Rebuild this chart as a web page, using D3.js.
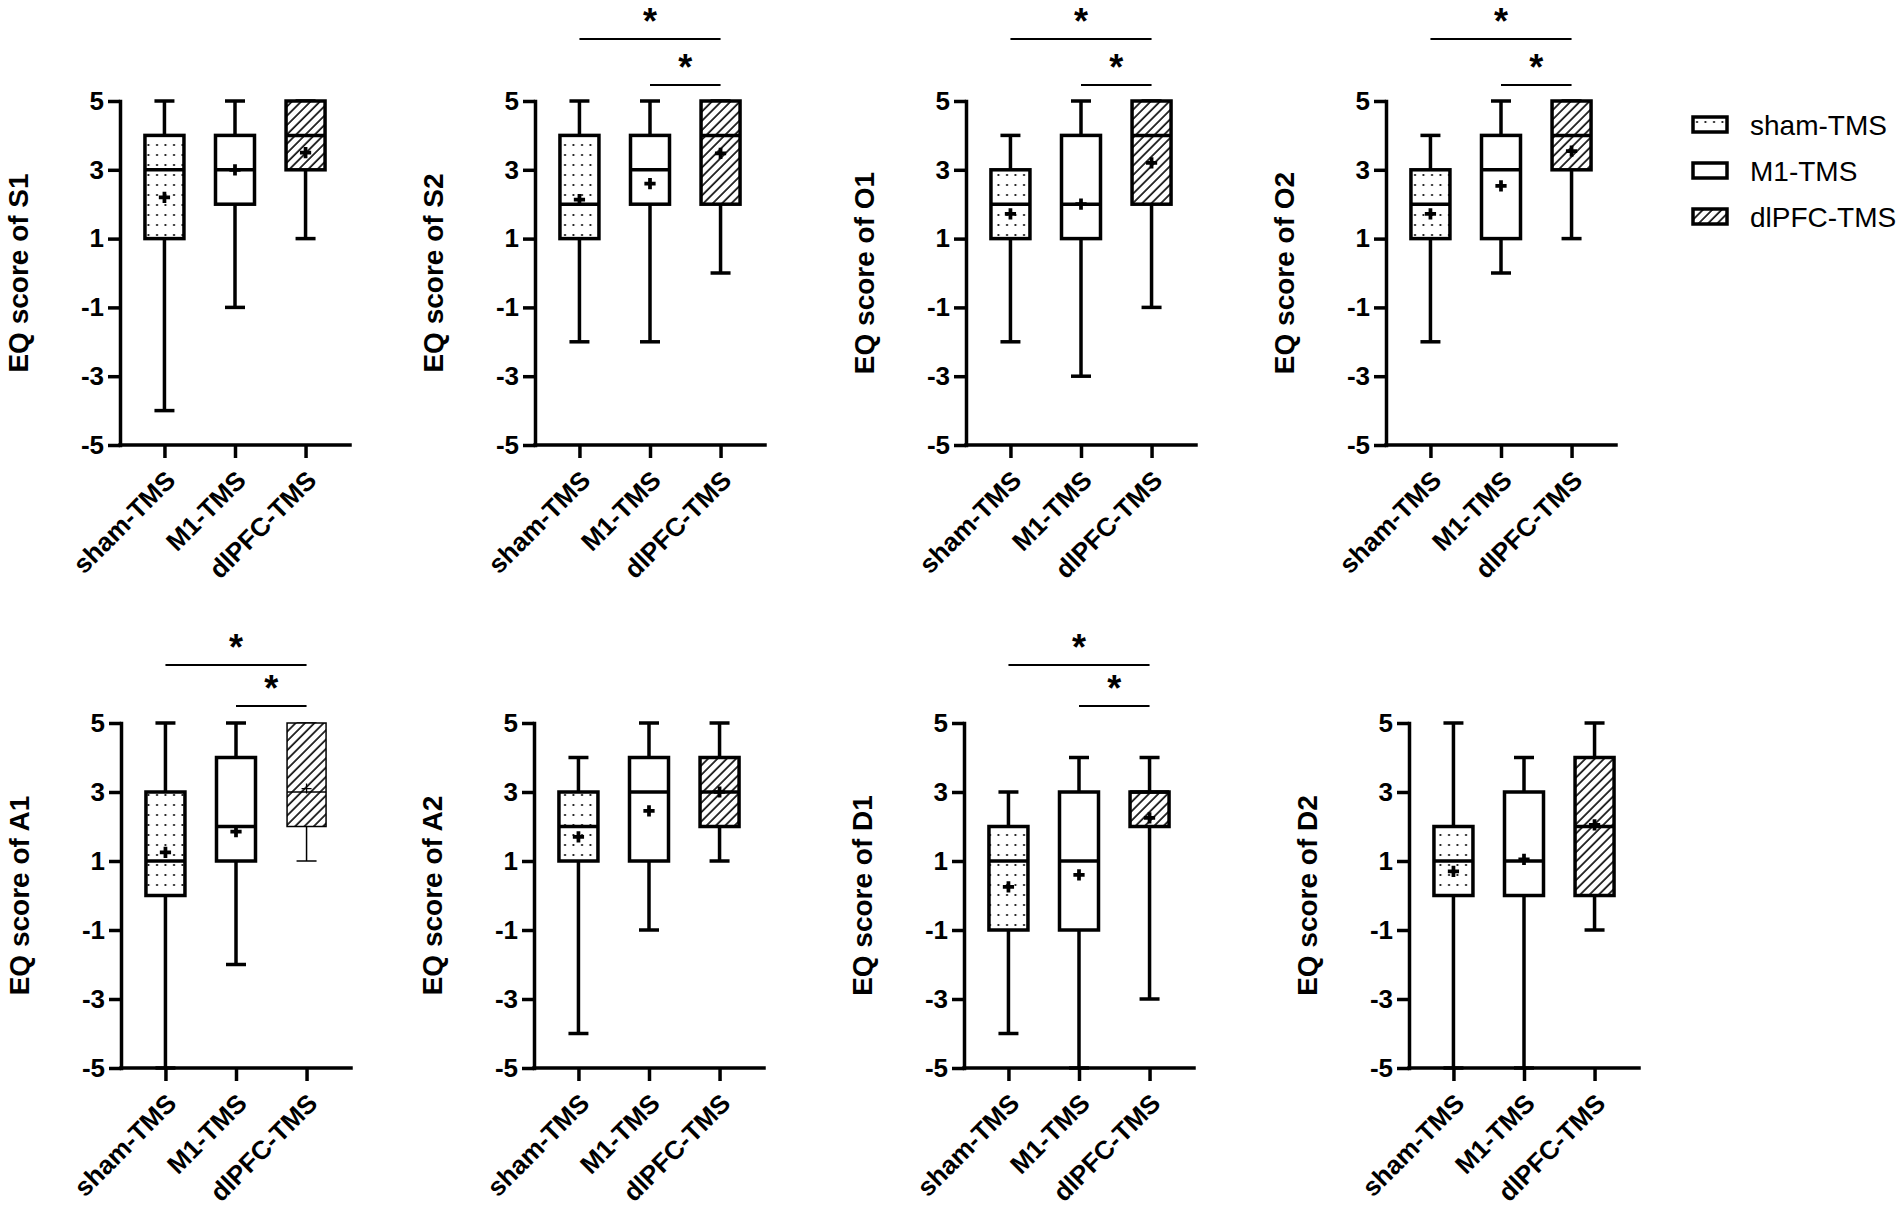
<!DOCTYPE html>
<html>
<head>
<meta charset="utf-8">
<script src="https://cdn.jsdelivr.net/npm/d3@7"></script>
<style>
  body { margin: 0; background: #fff; }
  text { font-family: "Liberation Sans", Arial, sans-serif; fill: #000; }
</style>
</head>
<body>
<div id="chart"></div>
<script>
// groups and panels
var groups = ["sham-TMS", "M1-TMS", "dlPFC-TMS"];
var panels = ["S1", "S2", "O1", "O2", "A1", "A2", "D1", "D2"];
var yTicks = [-5, -3, -1, 1, 3, 5];

// box statistics per panel, one value per group (sham, M1, dlPFC)
var whiskerLow = [[-4, -1, 1], [-2, -2, 0], [-2, -3, -1], [-2, 0, 1], [-5, -2, 1], [-4, -1, 1], [-4, -5, -3], [-5, -5, -1]];
var q1 =         [[1, 2, 3],   [1, 2, 2],   [1, 1, 2],    [1, 1, 3],  [0, 1, 2],   [1, 1, 2],   [-1, -1, 2],  [0, 0, 0]];
var medians =    [[3, 3, 4],   [2, 3, 4],   [2, 2, 4],    [2, 3, 4],  [1, 2, 3],   [2, 3, 3],   [1, 1, 3],    [1, 1, 2]];
var q3 =         [[4, 4, 5],   [4, 4, 5],   [3, 4, 5],    [3, 4, 5],  [3, 4, 5],   [3, 4, 4],   [2, 3, 3],    [2, 3, 4]];
var whiskerHigh =[[5, 5, 5],   [5, 5, 5],   [4, 5, 5],    [4, 5, 5],  [5, 5, 5],   [4, 5, 5],   [3, 4, 4],    [5, 4, 5]];
var means =      [[2.2, 3.0, 3.5], [2.13, 2.6, 3.48], [1.72, 2.0, 3.2], [1.72, 2.53, 3.54],
                  [1.25, 1.85, 3.1], [1.7, 2.45, 3.0], [0.25, 0.6, 2.25], [0.7, 1.05, 2.05]];

// significance brackets: [from group, to group]
var sigPanels = ["S2", "O1", "O2", "A1", "D1"];
var sigPairs = [[0, 2], [1, 2]];

//layout
var width = 1902, height = 1207;
var axisX = [120, 535, 966, 1386, 121, 534, 964, 1409];   // left edge of each plot
var rowTop = [101, 723], rowBottom = [445, 1068];
var barOffset = [[62, 16], [58, 17]];   // bracket heights above the top of the axis, per row
var plotW = 230, boxW = 39, capW = 20, lw = 3.5;
var thinBox = { panel: "A1", group: 2 };   // this one is drawn with hairlines in the original

var svg = d3.select("#chart").append("svg")
    .attr("width", width)
    .attr("height", height);

var defs = svg.append("defs");

// dotted fill
var dots = defs.append("pattern")
    .attr("id", "dots")
    .attr("patternUnits", "userSpaceOnUse")
    .attr("width", 8.5).attr("height", 10);
dots.append("rect").attr("width", 8.5).attr("height", 10).attr("fill", "#fff");
dots.append("circle").attr("cx", 4).attr("cy", 5).attr("r", 1.1).attr("fill", "#000");

// hatched fill
var hatch = defs.append("pattern")
    .attr("id", "hatch")
    .attr("patternUnits", "userSpaceOnUse")
    .attr("width", 6.6).attr("height", 10)
    .attr("patternTransform", "rotate(45)");
hatch.append("rect").attr("width", 6.6).attr("height", 10).attr("fill", "#fff");
hatch.append("line").attr("x1", 1).attr("x2", 1).attr("y1", 0).attr("y2", 10)
    .attr("stroke", "#000").attr("stroke-width", 1.6);

var fills = ["url(#dots)", "#fff", "url(#hatch)"];

panels.forEach(function (name, p) {

    var row = p < 4 ? 0 : 1;
    var ax = axisX[p];

    var y = d3.scaleLinear().domain([-5, 5]).range([rowBottom[row], rowTop[row]]);
    var x = d3.scalePoint().domain(groups).range([ax, ax + plotW]).padding(0.63);

    var g = svg.append("g").attr("class", "panel");

    // y axis (plain hyphen for negatives, like the original)
    var yAxis = g.append("g")
        .attr("transform", "translate(" + ax + ",0)")
        .call(d3.axisLeft(y).tickValues(yTicks).tickSize(12).tickSizeOuter(0).tickPadding(4)
            .tickFormat(function (d) { return String(d); }));

    // x axis
    var xAxis = g.append("g")
        .attr("transform", "translate(0," + rowBottom[row] + ")")
        .call(d3.axisBottom(x).tickSize(13).tickSizeOuter(0));

    [yAxis, xAxis].forEach(function (a) {
        a.select(".domain").attr("stroke", "#000").attr("stroke-width", lw).attr("stroke-linecap", "square");
        a.selectAll(".tick line").attr("stroke", "#000").attr("stroke-width", lw);
        a.selectAll("text")
            .style("font-size", "26px").style("font-weight", "bold");
    });

    // domain of the x axis should run from the y axis to the end of the plot
    xAxis.select(".domain").attr("d", "M" + ax + ",0H" + (ax + plotW));

    xAxis.selectAll(".tick text")
        .attr("x", 0).attr("y", 0).attr("dy", 0)
        .attr("transform", "translate(12,37) rotate(-45)")
        .style("text-anchor", "end");

    // y title
    g.append("text")
        .attr("transform", "translate(" + (ax - 92) + "," + ((rowTop[row] + rowBottom[row]) / 2) + ") rotate(-90)")
        .attr("text-anchor", "middle")
        .style("font-size", "28px")
        .style("font-weight", "bold")
        .text("EQ score of " + name);

    // boxes
    groups.forEach(function (grp, i) {
        var cx = x(grp);
        var thin = (name == thinBox.panel && i == thinBox.group);
        var sw = thin ? 1.5 : lw;
        var bg = g.append("g").attr("class", "box");

        // whiskers
        bg.append("line")
            .attr("x1", cx).attr("x2", cx)
            .attr("y1", y(whiskerLow[p][i])).attr("y2", y(whiskerHigh[p][i]))
            .attr("stroke", "#000").attr("stroke-width", sw);
        [whiskerLow[p][i], whiskerHigh[p][i]].forEach(function (v) {
            bg.append("line")
                .attr("x1", cx - capW / 2).attr("x2", cx + capW / 2)
                .attr("y1", y(v)).attr("y2", y(v))
                .attr("stroke", "#000").attr("stroke-width", sw);
        });

        // box
        bg.append("rect")
            .attr("x", cx - boxW / 2)
            .attr("y", y(q3[p][i]))
            .attr("width", boxW)
            .attr("height", y(q1[p][i]) - y(q3[p][i]))
            .attr("fill", fills[i])
            .attr("stroke", "#000")
            .attr("stroke-width", sw);

        // median
        bg.append("line")
            .attr("x1", cx - boxW / 2).attr("x2", cx + boxW / 2)
            .attr("y1", y(medians[p][i])).attr("y2", y(medians[p][i]))
            .attr("stroke", "#000").attr("stroke-width", sw);

        // mean
        if (thin) {
            bg.append("path")
                .attr("d", "M" + (cx - 5) + "," + y(means[p][i]) + "h10M" + cx + "," + (y(means[p][i]) - 5) + "v10")
                .attr("stroke", "#000").attr("stroke-width", 1.3);
        } else {
            bg.append("path")
                .attr("transform", "translate(" + cx + "," + y(means[p][i]) + ")")
                .attr("d", d3.symbol().type(d3.symbolCross).size(70)())
                .attr("fill", "#000");
        }
    });

    // significance
    if (sigPanels.indexOf(name) != -1) {
        sigPairs.forEach(function (pair, k) {
            var x1 = x(groups[pair[0]]), x2 = x(groups[pair[1]]);
            var by = rowTop[row] - barOffset[row][k];
            g.append("line")
                .attr("x1", x1).attr("x2", x2)
                .attr("y1", by).attr("y2", by)
                .attr("stroke", "#000").attr("stroke-width", 2);
            g.append("text")
                .attr("x", (x1 + x2) / 2)
                .attr("y", by - 5)
                .attr("text-anchor", "middle")
                .style("font-size", "36px")
                .style("font-weight", "bold")
                .text("*");
        });
    }
});

// legend
var legend = svg.append("g")
    .attr("class", "legend")
    .attr("transform", "translate(1693,117)");

groups.forEach(function (grp, i) {
    var item = legend.append("g").attr("transform", "translate(0," + (i * 46) + ")");
    item.append("rect")
        .attr("width", 34).attr("height", 15)
        .attr("fill", fills[i])
        .attr("stroke", "#000")
        .attr("stroke-width", lw);
    item.append("text")
        .attr("x", 57).attr("y", 18)
        .style("font-size", "28px")
        .text(grp);
});
</script>
</body>
</html>
